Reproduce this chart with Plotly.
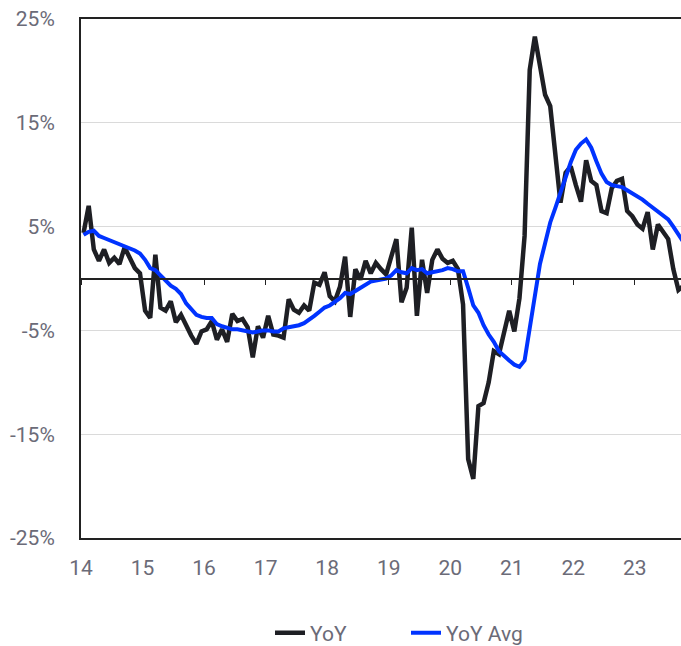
import plotly.graph_objects as go

# Monthly YoY values (%) starting Jan 2014
yoy = [4.4, 7.0, 2.8, 1.7, 2.8, 1.5, 2.0, 1.4, 3.0, 2.0, 1.0, 0.5,
       -3.1, -3.8, 2.3, -2.8, -3.1, -2.2, -4.2, -3.5, -4.6, -5.5, -6.3, -5.1,
       -4.9, -4.1, -5.9, -4.9, -6.1, -3.4, -4.1, -3.9, -4.7, -7.6, -4.6, -5.7,
       -3.6, -5.4, -5.5, -5.7, -2.0, -3.0, -3.3, -2.6, -3.1, -0.4, -0.6, 0.6,
       -1.7, -2.2, -0.8, 2.1, -3.7, 0.9, -0.1, 1.7, 0.5, 1.5, 0.9, 0.4,
       2.1, 3.8, -2.3, -0.9, 4.9, -3.6, 1.8, -1.4, 1.8, 2.8, 1.9, 1.5,
       1.7, 0.9, -2.5, -17.4, -19.3, -12.3, -12.0, -10.0, -7.0, -7.3, -5.2, -3.1,
       -5.1, -1.9, 4.1, 20.1, 23.3, 20.7, 17.7, 16.6, 11.8, 7.3, 10.2, 10.8,
       9.0, 7.4, 11.4, 9.4, 9.0, 6.5, 6.3, 8.7, 9.4, 9.6, 6.5, 6.0,
       5.2, 4.8, 6.4, 2.8, 5.2, 4.4, 3.8, 0.9, -1.1, -0.7]

yoy_avg = [4.2, 4.5, 4.6, 4.1, 3.9, 3.7, 3.5, 3.4, 3.2, 3.0, 2.7, 2.4,
           1.8, 1.0, 0.8, 0.3, -0.2, -0.7, -1.0, -1.5, -2.4, -3.0, -3.5, -3.7,
           -3.8, -3.8, -4.4, -4.6, -4.8, -4.9, -4.9, -5.0, -5.1, -5.2, -5.1, -5.0,
           -5.0, -5.1, -5.1, -4.8, -4.7, -4.6, -4.5, -4.3, -4.0, -3.6, -3.2, -2.8,
           -2.6, -2.3, -1.9, -1.4, -1.5, -1.2, -0.9, -0.6, -0.3, -0.2, -0.1, 0.0,
           0.3, 0.8, 0.6, 0.5, 1.0, 0.8, 0.9, 0.5, 0.6, 0.7, 0.8, 1.0,
           0.9, 0.7, 0.7, -0.9, -2.6, -3.3, -4.5, -5.4, -6.1, -7.0, -7.5, -7.9,
           -8.3, -8.5, -7.9, -4.9, -1.7, 1.4, 3.4, 5.4, 6.8, 8.3, 10.0, 11.2,
           12.4, 13.0, 13.4, 12.6, 11.3, 10.1, 9.3, 9.0, 8.9, 8.8, 8.5, 8.2,
           8.0, 7.6, 7.2, 6.8, 6.4, 6.1, 5.7, 5.0, 4.2, 3.5]

start_year = 14
x = [start_year + (i + 0.5) / 12 for i in range(len(yoy))]

year_ticks = list(range(14, 24))
year_labels = [str(y) for y in year_ticks]
y_ticks = [-25, -15, -5, 5, 15, 25]
y_labels = [f"{v}%" for v in y_ticks]

FONT = "Roboto, 'Open Sans', sans-serif"
GREY = "#6b6b78"

fig = go.Figure()
fig.add_trace(go.Scatter(x=x, y=yoy, name="YoY", mode="lines",
                         line=dict(color="#1e1f24", width=4.5)))
fig.add_trace(go.Scatter(x=x, y=yoy_avg, name="YoY Avg", mode="lines",
                         line=dict(color="#0033ff", width=4)))

fig.update_layout(
    width=681, height=646,
    margin=dict(l=81, r=0, t=19, b=108, autoexpand=False),
    paper_bgcolor="white", plot_bgcolor="white",
    font=dict(family=FONT, size=21, color=GREY),
    showlegend=True,
    legend=dict(orientation="h", x=0.315, xanchor="left", y=-0.183, yanchor="middle",
                font=dict(size=21, color=GREY), entrywidth=91,
                bgcolor="rgba(0,0,0,0)"),
    xaxis=dict(range=[14, 23.75], tickvals=year_ticks, ticktext=year_labels,
               showgrid=False, zeroline=False, showline=True, linecolor="#222222",
               linewidth=2, mirror=True, ticks="", ticklabelstandoff=10,
               automargin=False, tickfont=dict(size=21, color=GREY)),
    xaxis2=dict(range=[14, 23.75], overlaying="x", anchor="free", position=0.5,
                side="bottom", tickvals=year_ticks, showticklabels=False,
                showgrid=False, zeroline=False, showline=True, linecolor="#222222",
                linewidth=1.5, ticks="outside", ticklen=6, tickwidth=1,
                tickcolor="#222222", automargin=False),
    yaxis=dict(range=[-25, 25], tickvals=y_ticks, ticktext=y_labels,
               showgrid=True, gridcolor="#dadada", gridwidth=1, zeroline=False,
               showline=True, linecolor="#222222", linewidth=2, ticks="",
               ticklabelstandoff=20, automargin=False,
               tickfont=dict(size=21, color=GREY)),
)

# invisible trace to activate xaxis2 (zero line with year ticks)
fig.add_trace(go.Scatter(x=[14], y=[0], xaxis="x2", mode="markers",
                         marker=dict(opacity=0), showlegend=False, hoverinfo="skip"))

fig.write_html("out.html", config={"responsive": False, "displayModeBar": False},
               post_script="document.body.style.margin='0';document.body.style.overflow='hidden';")
